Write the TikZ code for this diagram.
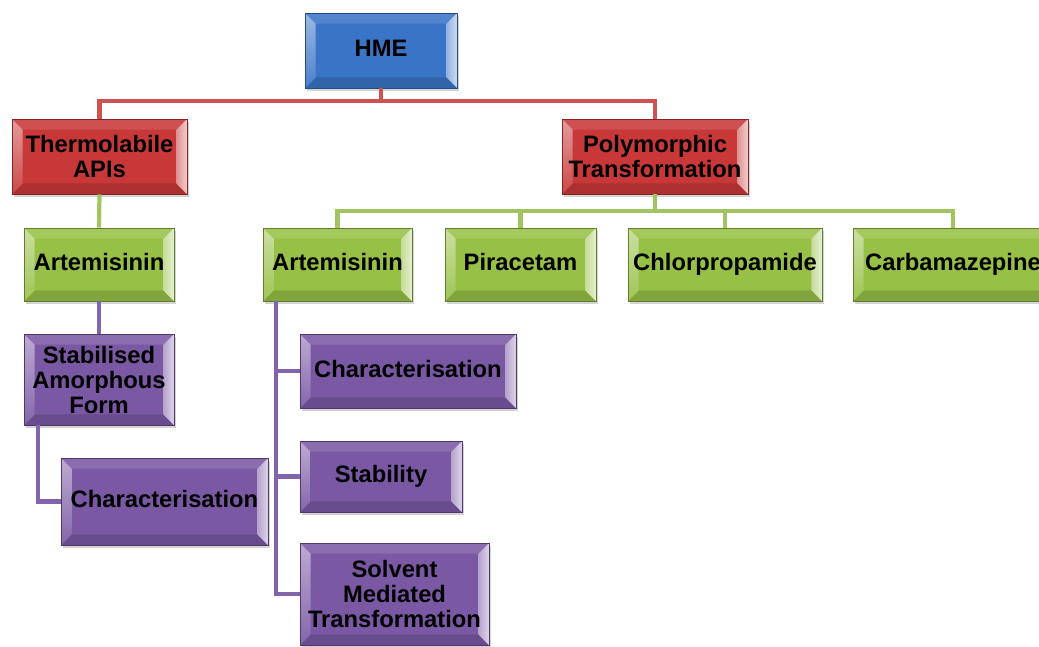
\documentclass[tikz,border=0pt]{standalone}
\usepackage{fontspec}
\setmainfont{Liberation Sans}
\usetikzlibrary{shadows,calc}

\definecolor{cblue}{RGB}{58,116,198}
\definecolor{cred}{RGB}{200,56,56}
\definecolor{cgreen}{RGB}{150,192,70}
\definecolor{cpurple}{RGB}{122,88,164}
\definecolor{lred}{RGB}{206,82,82}
\definecolor{lgreen}{RGB}{160,196,96}
\definecolor{lpurple}{RGB}{130,100,172}

\newcommand\bevelinset{7.5pt}
% taller first line, so that stacked text sits a little lower in its box
\newcommand\tallfirst{\rule{0pt}{16pt}}

\tikzset{
  bevelbox/.style={
    draw=#1!65!black, line width=0.4pt, fill=#1, inner sep=0pt,
    align=center, text=black,
    font=\bfseries\fontsize{16.9}{17.7}\selectfont,
    execute at end node={\vphantom{Ap}},
    drop shadow={shadow xshift=1.2pt, shadow yshift=-1.8pt, opacity=0.35},
    path picture={
      \coordinate (pNW) at (path picture bounding box.north west);
      \coordinate (pNE) at (path picture bounding box.north east);
      \coordinate (pSW) at (path picture bounding box.south west);
      \coordinate (pSE) at (path picture bounding box.south east);
      \coordinate (qNW) at ([shift={(\bevelinset,-\bevelinset)}]pNW);
      \coordinate (qNE) at ([shift={(-\bevelinset,-\bevelinset)}]pNE);
      \coordinate (qSW) at ([shift={(\bevelinset,\bevelinset)}]pSW);
      \coordinate (qSE) at ([shift={(-\bevelinset,\bevelinset)}]pSE);
      % top and bottom facets
      \fill[#1!88!white] (pNW) -- (pNE) -- (qNE) -- (qNW) -- cycle;
      \fill[#1!86!black] (pSW) -- (pSE) -- (qSE) -- (qSW) -- cycle;
      % side facets catch the light
      \shade[top color=#1!50!white, bottom color=#1!92!white]
        (pNW) -- (qNW) -- (qSW) -- (pSW) -- cycle;
      \shade[left color=#1!55!white, right color=#1!25!white]
        (pNE) -- (qNE) -- (qSE) -- (pSE) -- cycle;
      % face of the box
      \fill[#1] (qNW) rectangle (qSE);
    }
  },
  hmebox/.style={bevelbox=cblue},
  redbox/.style={bevelbox=cred},
  greenbox/.style={bevelbox=cgreen},
  purplebox/.style={bevelbox=cpurple},
  link/.style={line width=3pt, line join=miter},
  redlink/.style={link, draw=lred},
  greenlink/.style={link, draw=lgreen},
  purplelink/.style={link, draw=lpurple},
}

\begin{document}
\begin{tikzpicture}[x=0.025cm, y=-0.025cm]
\useasboundingbox (0,0) rectangle (1039,646);

% top level
\node[hmebox, minimum width=152*0.025cm, minimum height=75*0.025cm] (hme) at (381,50.5) {HME};

% second level
\node[redbox, minimum width=175*0.025cm, minimum height=75*0.025cm] (therm) at (99.5,156.5) {\tallfirst Thermolabile\\APIs};
\node[redbox, minimum width=186*0.025cm, minimum height=75*0.025cm] (poly) at (655,156.5) {\tallfirst Polymorphic\\Transformation};

% drugs
\node[greenbox, minimum width=150*0.025cm, minimum height=73*0.025cm] (artL) at (99,264.5) {Artemisinin};
\node[greenbox, minimum width=149*0.025cm, minimum height=73*0.025cm] (artR) at (337.5,264.5) {Artemisinin};
\node[greenbox, minimum width=151*0.025cm, minimum height=73*0.025cm] (pira) at (520.5,264.5) {Piracetam};
\node[greenbox, minimum width=194*0.025cm, minimum height=73*0.025cm] (chlor) at (725,264.5) {Chlorpropamide};
\node[greenbox, minimum width=200*0.025cm, minimum height=73*0.025cm] (carba) at (953,264.5) {Carbamazepine};

% studies
\node[purplebox, minimum width=150*0.025cm, minimum height=91*0.025cm] (stab) at (99,379.5) {\tallfirst Stabilised\\Amorphous\\Form};
\node[purplebox, minimum width=207*0.025cm, minimum height=87*0.025cm] (charL) at (164.5,501.5) {Characterisation};
\node[purplebox, minimum width=216*0.025cm, minimum height=74*0.025cm] (charR) at (408,371) {Characterisation};
\node[purplebox, minimum width=162*0.025cm, minimum height=71*0.025cm] (stabil) at (381,476.5) {Stability};
\node[purplebox, minimum width=189*0.025cm, minimum height=102*0.025cm] (solv) at (394.5,594) {\tallfirst Solvent\\Mediated\\Transformation};

% red connectors
\coordinate (rbus) at (381,101);
\draw[redlink] (hme.south) -- (rbus);
\draw[redlink] (therm.north) |- (rbus) -| (poly.north);

% green connectors
\coordinate (gbus) at (655,211);
\draw[greenlink] (poly.south) -- (gbus);
\draw[greenlink] (artR.north) |- (gbus) -| (carba.north);
\draw[greenlink] (pira.north) |- (gbus);
\draw[greenlink] (chlor.north) |- (gbus);
\draw[greenlink] (therm.south) -- (artL.north);

% purple connectors
\draw[purplelink] (artL.south) -- (stab.north);
\coordinate (ltrunk) at ([xshift=0.35cm]stab.south west);
\draw[purplelink] (ltrunk) |- (charL.west);
\coordinate (rtrunk) at ([xshift=0.325cm]artR.south west);
\draw[purplelink] (rtrunk) |- (solv.west);
\draw[purplelink] (charR.west) -| (rtrunk);
\draw[purplelink] (stabil.west) -| (rtrunk);
\end{tikzpicture}
\end{document}
